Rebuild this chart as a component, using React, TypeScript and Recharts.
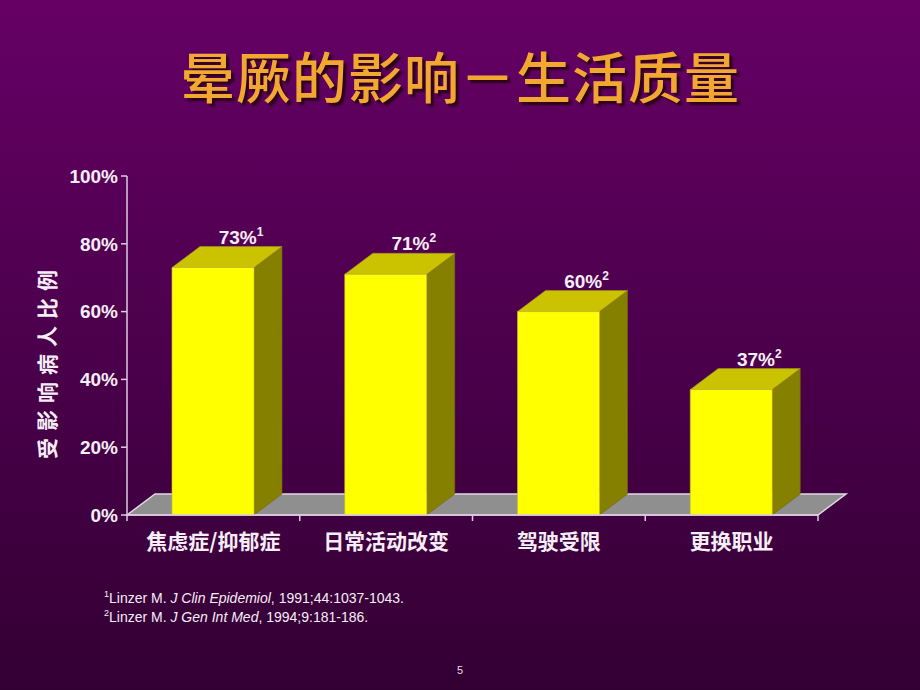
import React from 'react';
import { BarChart, Bar, XAxis, YAxis, ReferenceArea, LabelList } from 'recharts';

const categories = ['焦虑症/抑郁症', '日常活动改变', '驾驶受限', '更换职业'];
const values = [73, 71, 60, 37];
const refs = ['1', '2', '2', '2'];
const yTicks = [0, 20, 40, 60, 80, 100];

const data = categories.map((c, i) => ({ name: c, value: values[i], ref: refs[i] }));

const DX = 28;
const DY = 21;
const LATIN = '"Liberation Sans", Arial, "Noto Sans CJK SC", sans-serif';
const CJK = '"Noto Sans CJK SC", "Liberation Sans", sans-serif';
const AXIS = '#dccbe2';
const TXT = '#f6eef6';

const Box3D = (props: any) => {
  const { x, y, width, height } = props;
  if (width == null || height == null) return null;
  const yb = y + height;
  const front = `M${x},${y}h${width}V${yb}H${x}Z`;
  const top = `M${x},${y}L${x + DX},${y - DY}H${x + width + DX}L${x + width},${y}Z`;
  const side = `M${x + width},${y}L${x + width + DX},${y - DY}V${yb - DY}L${x + width},${yb}Z`;
  return (
    <g>
      <path d={side} fill="#858000" stroke="#6f6a10" strokeWidth={0.6} />
      <path d={top} fill="#cbc300" stroke="#9d9420" strokeWidth={0.6} />
      <path d={front} fill="#ffff00" stroke="#c8b840" strokeWidth={0.6} />
    </g>
  );
};

const Floor = (props: any) => {
  const { x, y, width } = props;
  const d = `M${x},${y}H${x + width}L${x + width + DX},${y - DY}H${x + DX}Z`;
  return <path d={d} fill="#8f8f8f" stroke="#e2d6e6" strokeWidth={1.5} />;
};

const ValueLabel = (props: any) => {
  const { x, y, width, index } = props;
  const cx = x + width / 2 + 28;
  return (
    <text x={cx} y={y - DY - 3} textAnchor="middle" fill={TXT} fontFamily={LATIN} fontWeight="bold" fontSize={19}>
      {`${values[index]}%`}
      <tspan fontSize={12} dy={-8}>{refs[index]}</tspan>
    </text>
  );
};

const XTick = (props: any) => {
  const { x, y, payload, index } = props;
  const half = payload && typeof payload.offset === 'number' && payload.offset > 0 ? payload.offset : 86;
  const ay = y - 6;
  return (
    <g>
      <line x1={x - half} x2={x - half} y1={ay} y2={ay + 6} stroke={AXIS} strokeWidth={1.5} />
      {index === categories.length - 1 && (
        <line x1={x + half} x2={x + half} y1={ay} y2={ay + 6} stroke={AXIS} strokeWidth={1.5} />
      )}
      <text x={x} y={y + 19} textAnchor="middle" dominantBaseline="central" fill={TXT} fontFamily={CJK} fontWeight="bold" fontSize={21}>
        {payload.value}
      </text>
    </g>
  );
};

const Sup = ({ children }: { children: React.ReactNode }) => (
  <span style={{ fontSize: 9, position: 'relative', top: -6, lineHeight: 0 }}>{children}</span>
);

export default function App() {
  return (
    <div
      style={{
        position: 'absolute',
        left: 0,
        top: 0,
        width: 920,
        height: 690,
        background: 'linear-gradient(180deg, #660066 0%, #4e004e 45%, #330033 100%)',
        overflow: 'hidden',
      }}
    >
      <div
        style={{
          position: 'absolute',
          left: 0,
          top: 37,
          width: 920,
          textAlign: 'center',
          fontFamily: CJK,
          fontSize: 55,
          fontWeight: 500,
          lineHeight: '74px',
          color: '#f2a830',
          textShadow: '3px 3px 2px rgba(40,0,20,0.9)',
          letterSpacing: 1,
        }}
      >
        晕厥的影响－生活质量
      </div>

      <BarChart
        width={920}
        height={690}
        data={data}
        margin={{ top: 176, left: 67, right: 102, bottom: 135 }}
        barSize={82}
        style={{ position: 'absolute', left: 0, top: 0 }}
      >
        <ReferenceArea y1={0} y2={0} shape={Floor} ifOverflow="visible" />
        <XAxis
          dataKey="name"
          height={40}
          axisLine={{ stroke: AXIS, strokeWidth: 1.5 }}
          tickLine={false}
          tickSize={6}
          tickMargin={0}
          tick={XTick}
          interval={0}
        />
        <YAxis
          width={60}
          domain={[0, 100]}
          ticks={yTicks}
          interval={0}
          tickFormatter={(v: number) => `${v}%`}
          axisLine={{ stroke: AXIS, strokeWidth: 1.5 }}
          tickLine={{ stroke: AXIS, strokeWidth: 1.5 }}
          tickSize={6}
          tickMargin={3}
          tick={{ fill: TXT, fontFamily: LATIN, fontWeight: 'bold', fontSize: 19 }}
        />
        <Bar dataKey="value" shape={Box3D} isAnimationActive={false}>
          <LabelList dataKey="value" content={ValueLabel} />
        </Bar>
      </BarChart>

      <svg width={920} height={690} style={{ position: 'absolute', left: 0, top: 0, pointerEvents: 'none' }}>
        <text
          transform="translate(46,361) rotate(-90)"
          textAnchor="middle"
          dominantBaseline="central"
          fill={TXT}
          fontFamily={CJK}
          fontWeight="bold"
          fontSize={21}
          letterSpacing={7}
        >
          受影响病人比例
        </text>
      </svg>

      <div
        style={{
          position: 'absolute',
          left: 104,
          top: 589,
          fontFamily: LATIN,
          fontSize: 14,
          lineHeight: '19px',
          color: TXT,
        }}
      >
        <div>
          <Sup>1</Sup>Linzer M. <i>J Clin Epidemiol</i>, 1991;44:1037-1043.
        </div>
        <div>
          <Sup>2</Sup>Linzer M. <i>J Gen Int Med</i>, 1994;9:181-186.
        </div>
      </div>

      <div
        style={{
          position: 'absolute',
          left: 0,
          top: 664,
          width: 920,
          textAlign: 'center',
          fontFamily: LATIN,
          fontSize: 11,
          color: '#e8d8ec',
        }}
      >
        5
      </div>
    </div>
  );
}
